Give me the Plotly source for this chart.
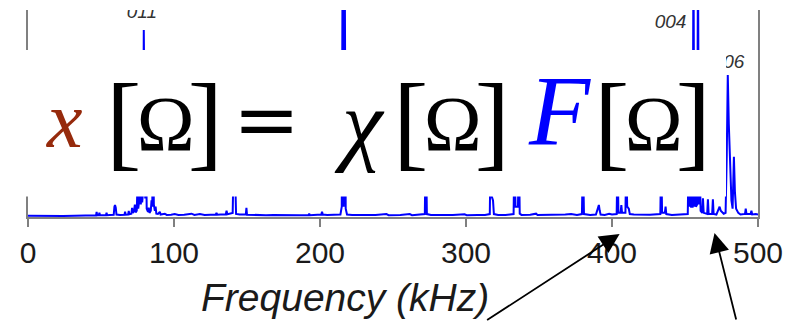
import plotly.graph_objects as go

# Vibration spectrum: frequency (kHz) and relative amplitude
freq_khz = [
    0.0, 8.0, 16.0, 24.0, 32.0, 40.0, 44.0, 46.6, 47.0, 47.4,
    48.5, 48.9, 49.3, 51.0, 53.4, 53.8, 54.2, 56.0, 58.7, 59.2,
    59.6, 60.1, 60.6, 63.0, 66.1, 66.5, 66.9, 68.6, 69.0, 69.4,
    70.8, 71.3, 71.8, 72.6, 73.2, 73.7, 74.5, 75.0, 75.5, 76.2,
    76.8, 77.3, 77.7, 78.2, 78.8, 79.3, 79.8, 80.3, 80.8, 81.3,
    82.2, 82.7, 83.2, 84.1, 84.6, 85.1, 85.6, 86.2, 86.9, 87.4,
    87.9, 89.0, 90.3, 90.8, 93.7, 95.0, 98.0, 100.5, 103.0, 107.0,
    112.0, 114.0, 117.7, 121.0, 125.0, 128.6, 129.1, 129.6, 132.0, 135.5,
    136.0, 136.5, 140.2, 140.8, 141.4, 141.9, 142.5, 145.0, 149.2, 149.6,
    150.0, 153.0, 158.0, 163.0, 168.0, 174.0, 180.0, 186.0, 192.2, 192.6,
    193.0, 197.0, 200.9, 201.4, 201.9, 205.0, 210.0, 214.0, 214.9, 215.5,
    216.2, 216.9, 217.6, 218.5, 222.0, 230.0, 238.0, 245.5, 247.0, 255.0,
    261.5, 263.0, 268.0, 271.8, 272.5, 273.2, 276.0, 283.0, 291.0, 299.0,
    300.5, 308.0, 313.0, 316.3, 316.9, 317.6, 318.5, 319.1, 322.0, 327.0,
    332.6, 333.2, 333.9, 335.6, 336.2, 336.8, 338.0, 344.0, 348.0, 349.0,
    355.0, 362.0, 368.0, 372.0, 376.0, 379.4, 380.1, 380.8, 385.0, 389.0,
    391.0, 391.6, 392.2, 395.0, 398.0, 400.0, 403.2, 403.8, 404.4, 405.9,
    406.4, 406.9, 409.2, 409.8, 410.4, 411.5, 412.2, 415.0, 420.0, 426.0,
    433.1, 433.7, 434.3, 436.2, 436.7, 437.2, 441.0, 446.0, 451.9, 452.5,
    453.0, 453.7, 454.2, 455.2, 455.8, 456.4, 457.0, 457.5, 458.3, 458.9,
    459.5, 460.1, 460.7, 461.8, 462.3, 462.8, 465.2, 465.7, 466.2, 468.6,
    469.1, 469.6, 471.5, 473.7, 474.5, 476.5, 477.8, 478.6, 479.3, 480.0,
    480.9, 481.8, 482.6, 483.5, 484.2, 485.0, 486.5, 488.0, 491.1, 491.6,
    492.1, 495.0, 495.5, 496.0, 498.5, 500.0,
]
amplitude = [
    0.006, 0.005, 0.006, 0.005, 0.006, 0.007, 0.008, 0.008, 0.024, 0.008,
    0.009, 0.020, 0.009, 0.009, 0.009, 0.020, 0.009, 0.010, 0.011, 0.050,
    0.058, 0.045, 0.012, 0.010, 0.011, 0.026, 0.011, 0.012, 0.030, 0.013,
    0.016, 0.044, 0.020, 0.028, 0.060, 0.022, 0.030, 0.160, 0.040, 0.080,
    0.450, 0.060, 0.300, 0.070, 0.120, 0.903, 0.120, 0.090, 0.350, 0.040,
    0.025, 0.045, 0.020, 0.030, 0.080, 0.050, 0.400, 0.060, 0.030, 0.050,
    0.016, 0.015, 0.025, 0.012, 0.016, 0.010, 0.011, 0.014, 0.010, 0.011,
    0.016, 0.010, 0.014, 0.010, 0.011, 0.011, 0.020, 0.011, 0.012, 0.013,
    0.030, 0.013, 0.020, 0.260, 0.120, 0.200, 0.015, 0.012, 0.012, 0.044,
    0.011, 0.010, 0.011, 0.009, 0.010, 0.009, 0.010, 0.009, 0.010, 0.016,
    0.009, 0.010, 0.012, 0.025, 0.012, 0.010, 0.010, 0.012, 0.050, 1.300,
    0.050, 1.300, 0.040, 0.012, 0.010, 0.009, 0.010, 0.014, 0.009, 0.010,
    0.014, 0.009, 0.010, 0.014, 0.400, 0.014, 0.010, 0.009, 0.010, 0.013,
    0.009, 0.010, 0.010, 0.014, 0.360, 0.100, 0.080, 0.014, 0.010, 0.010,
    0.014, 0.350, 0.050, 0.050, 0.350, 0.016, 0.010, 0.011, 0.016, 0.010,
    0.010, 0.011, 0.012, 0.014, 0.010, 0.014, 0.300, 0.014, 0.010, 0.012,
    0.058, 0.030, 0.012, 0.010, 0.016, 0.012, 0.014, 0.300, 0.020, 0.020,
    0.058, 0.020, 0.020, 0.300, 0.050, 0.040, 0.014, 0.012, 0.010, 0.011,
    0.014, 0.300, 0.020, 0.020, 0.050, 0.014, 0.010, 0.011, 0.014, 0.300,
    0.050, 0.300, 0.050, 0.050, 1.300, 0.050, 0.300, 0.050, 0.060, 1.300,
    0.060, 0.250, 0.030, 0.020, 0.090, 0.020, 0.015, 0.085, 0.015, 0.015,
    0.085, 0.015, 0.012, 0.050, 0.030, 0.016, 0.020, 0.300, 0.686, 0.450,
    0.220, 0.080, 0.040, 0.291, 0.120, 0.040, 0.020, 0.012, 0.015, 0.040,
    0.015, 0.016, 0.030, 0.012, 0.014, 0.012,
]

# Mode labels over selected peaks
mode_labels = ["011", "004", "006"]
mode_label_khz = [78.0, 440.1, 479.8]
mode_label_amp = [0.985, 0.935, 0.742]

tick_khz = [0, 100, 200, 300, 400, 500]

W, H = 807, 321
PLOT_L, PLOT_R, PLOT_T, PLOT_B = 28, 758.5, 10, 217


def paper_x(px):
    return (px - PLOT_L) / (PLOT_R - PLOT_L)


def paper_y(py):
    return (PLOT_B - py) / (PLOT_B - PLOT_T)


SERIF = "Liberation Serif"
GRAY = "#808080"
BLUE = "#0000ff"
BROWN = "#962a0c"
K_SANS = 0.259
BR = 106           # bracket size


def bracketed(inner):
    return (
        f'<span style="font-size:{BR}px;baseline-shift:-7px;letter-spacing:-4.5px">[</span>'
        f'<span style="letter-spacing:-7px">{inner}</span>'
        f'<span style="font-size:{BR}px;baseline-shift:-7px">]</span>'
    )


fig = go.Figure()
fig.add_trace(go.Scatter(
    x=freq_khz, y=amplitude, mode="lines",
    line=dict(color=BLUE, width=2),
    hoverinfo="skip", showlegend=False,
))
fig.add_trace(go.Scatter(
    x=mode_label_khz, y=mode_label_amp, mode="text",
    text=mode_labels, textposition="middle center",
    textfont=dict(family="Liberation Sans", size=19, color="#333333", style="italic"),
    cliponaxis=True, hoverinfo="skip", showlegend=False,
))

# White panel carrying the equation
fig.add_shape(
    type="rect", xref="paper", yref="paper", layer="above",
    x0=paper_x(0), x1=paper_x(726.5), y0=paper_y(196.5), y1=paper_y(50),
    fillcolor="white", line=dict(width=0),
)

# Equation x[Ω] = χ[Ω] F[Ω]
# (text, x px, anchor, box-centre y px, size, family, colour, italic)
eq_parts = [
    ("x", 64.5, "center", 119.5, 80, SERIF, BROWN, True),
    (bracketed("Ω"), 106, "left", 121.6, 78, SERIF, "black", False),
    ("=", 267, "center", 119, 80, "DejaVu Serif", "black", False),
    ("χ", 360, "center", 122.5, 92, SERIF, "black", True),
    (bracketed("Ω"), 393, "left", 121.6, 78, SERIF, "black", False),
    ("F", 560, "center", 110.5, 100, SERIF, BLUE, True),
    (bracketed("Ω"), 594, "left", 121.6, 78, SERIF, "black", False),
]
for text, px, xa, cy, size, fam, col, ital in eq_parts:
    fig.add_annotation(
        text=text, xref="paper", yref="paper",
        x=paper_x(px), y=paper_y(cy),
        xanchor=xa, yanchor="middle", showarrow=False,
        borderpad=0, borderwidth=0,
        font=dict(family=fam, size=size, color=col,
                  style="italic" if ital else "normal"),
    )

# Axis title
fig.add_annotation(
    text="Frequency (kHz)", xref="paper", yref="paper",
    x=paper_x(345.5), y=paper_y(308 - K_SANS * 39),
    xanchor="center", yanchor="middle", showarrow=False,
    font=dict(family="Liberation Sans", size=39, color="#1a1a1a", style="italic"),
)

# Pointer arrows
for tip_x, tip_y, dx, dy in [(620, 234, -134, 113), (715, 233, 22, 114)]:
    fig.add_annotation(
        text="", xref="paper", yref="paper",
        x=paper_x(tip_x), y=paper_y(tip_y), ax=dx, ay=dy,
        showarrow=True, arrowhead=2, arrowsize=2.2, arrowwidth=1.8,
        arrowcolor="black", standoff=0,
    )

fig.update_xaxes(
    range=[0, 500], tickvals=tick_khz, ticktext=[str(t) for t in tick_khz],
    ticks="outside", ticklen=8, tickwidth=1.5, tickcolor=GRAY,
    showline=True, linecolor=GRAY, linewidth=1.5, mirror=False,
    showgrid=False, zeroline=False,
    tickfont=dict(family="Liberation Sans", size=30, color="#1a1a1a"),
)
fig.update_yaxes(
    range=[0, 1], showticklabels=False, ticks="",
    showline=True, linecolor=GRAY, linewidth=1.5, mirror=True,
    showgrid=False, zeroline=False,
)
fig.update_layout(
    width=W, height=H,
    margin=dict(l=PLOT_L, r=W - PLOT_R, t=PLOT_T, b=H - PLOT_B, pad=0),
    paper_bgcolor="white", plot_bgcolor="white",
)

fig.write_html("out.html")
